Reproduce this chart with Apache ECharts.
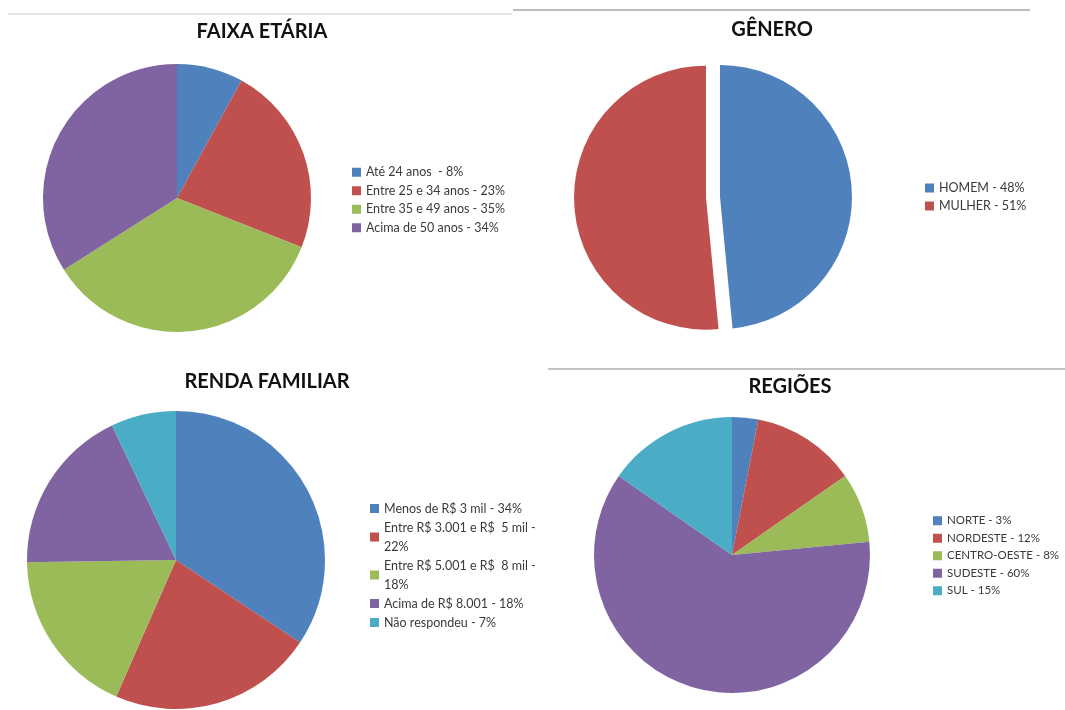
<!DOCTYPE html>
<html>
<head>
<meta charset="utf-8">
<script src="https://cdn.jsdelivr.net/npm/echarts@6/dist/echarts.min.js"></script>
<style>
  html, body { margin: 0; padding: 0; background: #fff; }
  #main { width: 1065px; height: 710px; }
</style>
</head>
<body>
<div id="main"></div>
<script>
var colors = ['#4F81BD', '#C0504D', '#9BBB59', '#8064A2', '#4BACC6'];

// faixa etaria
var idadeNomes = ['Até 24 anos ', 'Entre 25 e 34 anos', 'Entre 35 e 49 anos', 'Acima de 50 anos'];
var idadeValores = [8, 23, 35, 34];
// genero
var generoNomes = ['HOMEM', 'MULHER'];
var generoValores = [48, 51];
// renda familiar
var rendaNomes = ['Menos de R$ 3 mil', 'Entre R$ 3.001 e R$  5 mil', 'Entre R$ 5.001 e R$  8 mil', 'Acima de R$ 8.001', 'Não respondeu'];
var rendaValores = [34, 22, 18, 18, 7];
// regioes
var regiaoNomes = ['NORTE', 'NORDESTE', 'CENTRO-OESTE', 'SUDESTE', 'SUL'];
var regiaoValores = [3, 12, 8, 60, 15];

function itens(nomes, valores) {
    return nomes.map(function (n, i) {
        return { name: n, value: valores[i], itemStyle: { color: colors[i] } };
    });
}

var valorDe = {};
[[idadeNomes, idadeValores], [generoNomes, generoValores],
 [rendaNomes, rendaValores], [regiaoNomes, regiaoValores]].forEach(function (p) {
    p[0].forEach(function (n, i) { valorDe[n] = p[1][i]; });
});

var fonte = 'Lato, "Open Sans", sans-serif';

function legenda(nomes, left, top, size, lh, quebra) {
    return {
        orient: 'vertical',
        left: left,
        top: top,
        padding: 0,
        itemWidth: 9,
        itemHeight: 9,
        itemGap: 0,
        selectedMode: false,
        icon: 'rect',
        data: nomes,
        textStyle: { fontFamily: fonte, fontSize: size, color: '#3a3a3a', lineHeight: lh },
        formatter: function (name) {
            var v = valorDe[name];
            if (quebra && quebra.indexOf(name) >= 0) {
                return name + ' -\n' + v + '%';
            }
            return name + ' - ' + v + '%';
        }
    };
}

function titulo(text, x, y) {
    return {
        text: text,
        left: x,
        top: y,
        textAlign: 'center',
        textStyle: { fontFamily: fonte, fontSize: 20, fontWeight: 'bold', color: '#111' }
    };
}

function pizza(nomes, valores, center, radius) {
    return {
        type: 'pie',
        center: center,
        radius: radius,
        startAngle: 90,
        clockwise: true,
        label: { show: false },
        labelLine: { show: false },
        emphasis: { disabled: true },
        animation: false,
        data: itens(nomes, valores)
    };
}

var myChart = echarts.init(document.getElementById('main'));

var generoSerie = pizza(generoNomes, generoValores, [720, 197], 132);
generoSerie.selectedMode = 'single';
generoSerie.selectedOffset = 14;
generoSerie.data[1].selected = true;

var option = {
    backgroundColor: '#fff',
    title: [
        titulo('FAIXA ETÁRIA', 257, 17),
        titulo('GÊNERO', 767, 15),
        titulo('RENDA FAMILIAR', 262, 367),
        titulo('REGIÕES', 785, 372)
    ],
    legend: [
        legenda(idadeNomes, 352, 163, 12.5, 18.5),
        legenda(generoNomes, 925, 179, 12.5, 18),
        legenda(rendaNomes, 370, 499, 12.5, 19, [rendaNomes[1], rendaNomes[2]]),
        legenda(regiaoNomes, 933, 512, 11.5, 17.5)
    ],
    graphic: [
        { type: 'line', shape: { x1: 8, y1: 14, x2: 512, y2: 14 }, style: { stroke: '#e4e4e4', lineWidth: 2 } },
        { type: 'line', shape: { x1: 513, y1: 10, x2: 1030, y2: 10 }, style: { stroke: '#a8a8a8', lineWidth: 1.5 } },
        { type: 'line', shape: { x1: 548, y1: 369, x2: 1065, y2: 369 }, style: { stroke: '#b0b0b0', lineWidth: 1.5 } }
    ],
    series: [
        pizza(idadeNomes, idadeValores, [177, 198], 134),
        generoSerie,
        pizza(rendaNomes, rendaValores, [176, 560], 149),
        pizza(regiaoNomes, regiaoValores, [732, 555], 138)
    ]
};

myChart.setOption(option);
</script>
</body>
</html>
